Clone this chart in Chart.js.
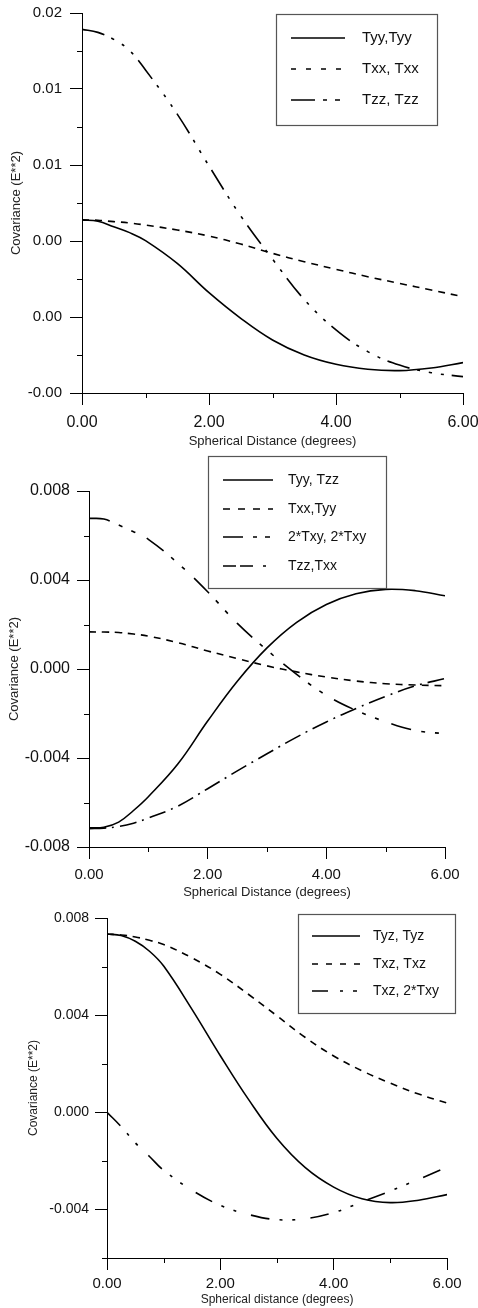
<!DOCTYPE html>
<html>
<head>
<meta charset="utf-8">
<script src="https://cdn.jsdelivr.net/npm/chart.js@4.4.1/dist/chart.umd.min.js"></script>
<style>
  html, body { margin: 0; padding: 0; background: #fff; }
  body { width: 478px; height: 1308px; position: relative; overflow: hidden; }
  canvas { position: absolute; left: 0; }
</style>
</head>
<body>
<canvas id="chart1" width="478" height="452" style="top:0px"></canvas>
<canvas id="chart2" width="478" height="448" style="top:452px"></canvas>
<canvas id="chart3" width="478" height="408" style="top:900px"></canvas>
<script>
// spherical distance (degrees), shared by all three panels
const distance = [0, 0.25, 0.5, 0.75, 1, 1.5, 2, 2.5, 3, 3.5, 4, 4.5, 5, 5.5, 6];

// panel 1
const tyyTyy = [0.00511, 0.00504, 0.00475, 0.00444, 0.00402, 0.00282, 0.00128, -0.00007, -0.00121, -0.00200, -0.00249, -0.00275, -0.00282, -0.00268, -0.00240];
const txxTxx = [0.00511, 0.00509, 0.00502, 0.00495, 0.00484, 0.00458, 0.00426, 0.00384, 0.00335, 0.00291, 0.00251, 0.00212, 0.00177, 0.00142, 0.00107];
const tzzTzz = [0.01514, 0.01498, 0.01461, 0.01402, 0.01300, 0.01068, 0.00795, 0.00532, 0.00305, 0.00092, -0.00068, -0.00182, -0.00253, -0.00293, -0.00314];

// panel 2
const tyyTzz = [-0.00714, -0.00711, -0.00688, -0.00636, -0.00574, -0.00426, -0.00234, -0.00055, 0.00095, 0.00210, 0.00290, 0.00338, 0.00358, 0.00352, 0.00329];
const txxTyy = [0.00167, 0.00166, 0.00164, 0.00157, 0.00148, 0.00118, 0.00081, 0.00047, 0.00014, -0.00013, -0.00036, -0.00054, -0.00066, -0.00072, -0.00075];
const txyTxy = [0.00677, 0.00674, 0.00647, 0.00617, 0.00583, 0.00475, 0.00347, 0.00205, 0.00085, -0.00024, -0.00118, -0.00186, -0.00237, -0.00276, -0.00291];
const tzzTxx = [-0.00718, -0.00715, -0.00708, -0.00693, -0.00670, -0.00616, -0.00538, -0.00458, -0.00381, -0.00306, -0.00238, -0.00178, -0.00123, -0.00076, -0.00043];

// panel 3
const tyzTyz = [0.00734, 0.00728, 0.00704, 0.00663, 0.00602, 0.00424, 0.00233, 0.00052, -0.00108, -0.00228, -0.00308, -0.00356, -0.00372, -0.00362, -0.00339];
const txzTxz = [0.00734, 0.00730, 0.00722, 0.00708, 0.00691, 0.00636, 0.00568, 0.00485, 0.00397, 0.00308, 0.00232, 0.00171, 0.00120, 0.00075, 0.00038];
const txzTxy = [0, -0.00059, -0.00126, -0.00182, -0.00239, -0.00321, -0.00383, -0.00421, -0.00442, -0.00438, -0.00413, -0.00369, -0.00324, -0.00276, -0.00226];

// ticks
const xTicks = [0, 2, 4, 6];
const xTickLabels = ['0.00', '2.00', '4.00', '6.00'];
const xMinor = [1, 3, 5];

const yTicks1 = [-0.004, 0, 0.004, 0.008, 0.012, 0.016];
const yTickLabels1 = ['-0.00', '0.00', '0.00', '0.01', '0.01', '0.02'];
const yMinor1 = [-0.002, 0.002, 0.006, 0.010, 0.014];

const yTicks2 = [-0.008, -0.004, 0, 0.004, 0.008];
const yTickLabels2 = ['-0.008', '-0.004', '0.000', '0.004', '0.008'];
const yMinor2 = [-0.006, -0.002, 0.002, 0.006];

const yTicks3 = [-0.004, 0, 0.004, 0.008];
const yTickLabels3 = ['-0.004', '0.000', '0.004', '0.008'];
const yMinor3 = [-0.006, -0.002, 0.002, 0.006];

const FONT = "'Liberation Sans', Arial, sans-serif";
Chart.defaults.font.family = FONT;
Chart.defaults.color = '#111';

// short minor tick marks on both axes
const minorTicks = {
  id: 'minorTicks',
  afterDraw(chart, args, o) {
    const { ctx, scales: { x, y } } = chart;
    ctx.save();
    ctx.strokeStyle = '#000';
    ctx.lineWidth = 1;
    ctx.beginPath();
    o.x.forEach(v => {
      const px = Math.round(x.getPixelForValue(v)) + 0.5;
      ctx.moveTo(px, y.bottom);
      ctx.lineTo(px, y.bottom + o.len);
    });
    o.y.forEach(v => {
      const py = Math.round(y.getPixelForValue(v)) + 0.5;
      ctx.moveTo(x.left - o.len, py);
      ctx.lineTo(x.left, py);
    });
    ctx.stroke();
    ctx.restore();
  }
};

// boxed legend like the original plots
const boxLegend = {
  id: 'boxLegend',
  afterDraw(chart, args, o) {
    const ctx = chart.ctx;
    ctx.save();
    ctx.fillStyle = '#fff';
    ctx.fillRect(o.left, o.top, o.width, o.height);
    ctx.strokeStyle = '#555';
    ctx.lineWidth = 1.2;
    ctx.strokeRect(o.left + 0.5, o.top + 0.5, o.width, o.height);
    ctx.font = o.fontSize + 'px ' + FONT;
    ctx.textBaseline = 'middle';
    chart.data.datasets.forEach((ds, i) => {
      const yy = o.rows[i];
      ctx.beginPath();
      ctx.setLineDash(ds.legendDash || []);
      ctx.lineWidth = 1.6;
      ctx.strokeStyle = '#000';
      ctx.moveTo(o.lineX, yy);
      ctx.lineTo(o.lineX + o.lineW, yy);
      ctx.stroke();
      ctx.setLineDash([]);
      ctx.fillStyle = '#111';
      ctx.fillText(ds.label, o.textX, yy);
    });
    ctx.restore();
  }
};

function line(label, values, dash, legendDash) {
  return {
    label: label,
    data: distance.map((d, i) => ({ x: d, y: values[i] })),
    borderColor: '#000',
    borderWidth: 1.6,
    borderDash: dash,
    legendDash: legendDash,
    pointRadius: 0,
    fill: false,
    tension: 0.4
  };
}

function drawPanel(id, datasets, yMin, yMax, yTicks, yLabels, yMinor, look) {
  return new Chart(document.getElementById(id), {
    type: 'line',
    data: { datasets: datasets },
    options: {
      responsive: false,
      animation: false,
      devicePixelRatio: 1,
      layout: { padding: { top: look.padTop, right: look.padRight, left: 0, bottom: 0 } },
      plugins: {
        legend: { display: false },
        tooltip: { enabled: false },
        minorTicks: { x: xMinor, y: yMinor, len: 5 },
        boxLegend: look.legend
      },
      scales: {
        x: {
          type: 'linear',
          min: 0,
          max: 6,
          afterBuildTicks: s => { s.ticks = xTicks.map(v => ({ value: v })); },
          afterFit: s => { s.height = look.xHeight; s.paddingLeft = 0; s.paddingRight = 0; },
          grid: { drawOnChartArea: false, tickLength: 12, tickColor: '#000', tickWidth: 1 },
          border: { color: '#000', width: 1 },
          ticks: {
            color: '#111',
            font: { size: look.xTickSize },
            padding: look.xTickPad,
            maxRotation: 0,
            autoSkip: false,
            callback: (v, i) => xTickLabels[i]
          },
          title: {
            display: true,
            text: look.xTitle,
            color: '#222',
            font: { size: look.xTitleSize },
            padding: { top: 0, bottom: look.xTitlePad }
          }
        },
        y: {
          type: 'linear',
          min: yMin,
          max: yMax,
          afterBuildTicks: s => { s.ticks = yTicks.map(v => ({ value: v })); },
          afterFit: s => { s.width = look.yWidth; s.paddingTop = 0; s.paddingBottom = 0; },
          grid: { drawOnChartArea: false, tickLength: 12, tickColor: '#000', tickWidth: 1 },
          border: { color: '#000', width: 1 },
          ticks: {
            color: '#111',
            font: { size: look.yTickSize },
            padding: look.yTickPad,
            autoSkip: false,
            callback: (v, i) => yLabels[i]
          },
          title: {
            display: true,
            text: 'Covariance (E**2)',
            color: '#222',
            font: { size: look.yTitleSize },
            padding: { top: look.yTitlePad, bottom: 0 }
          }
        }
      }
    },
    plugins: [minorTicks, boxLegend]
  });
}

// Panel 1
drawPanel('chart1', [
  line('Tyy,Tyy', tyyTyy, [], []),
  line('Txx, Txx', txxTxx, [7, 6], [5, 10]),
  line('Tzz, Tzz', tzzTzz, [23, 8, 3, 9, 3, 9, 3, 8], [24, 8, 4, 8, 5, 20])
], -0.004, 0.016, yTicks1, yTickLabels1, yMinor1, {
  padTop: 13, padRight: 15, xHeight: 59, yWidth: 82,
  xTickSize: 16, xTickPad: 8, yTickSize: 15, yTickPad: 8,
  xTitle: 'Spherical Distance (degrees)', xTitleSize: 13, xTitlePad: 3,
  yTitleSize: 13, yTitlePad: 9,
  legend: { left: 276, top: 14, width: 161, height: 111, rows: [38, 69, 100], lineX: 291, lineW: 54, textX: 362, fontSize: 15 }
});

// Panel 2
drawPanel('chart2', [
  line('Tyy, Tzz', tyyTzz, [], []),
  line('Txx,Tyy', txxTyy, [7, 6], [7, 8]),
  line('2*Txy, 2*Txy', txyTxy, [21, 10, 4, 10, 4, 13], [20, 10, 4, 8, 5, 20]),
  line('Tzz,Txx', tzzTxx, [17, 6, 2, 6], [13, 4, 13, 10, 3, 20])
], -0.008, 0.008, yTicks2, yTickLabels2, yMinor2, {
  padTop: 39, padRight: 33, xHeight: 53, yWidth: 89,
  xTickSize: 15, xTickPad: 7, yTickSize: 16, yTickPad: 7,
  xTitle: 'Spherical Distance (degrees)', xTitleSize: 13, xTitlePad: 0,
  yTitleSize: 13, yTitlePad: 7,
  legend: { left: 208, top: 4, width: 178, height: 132, rows: [28, 57, 85, 114], lineX: 223, lineW: 50, textX: 288, fontSize: 14 }
});

// Panel 3
drawPanel('chart3', [
  line('Tyz, Tyz', tyzTyz, [], []),
  line('Txz, Txz', txzTxz, [7, 6], [6, 8]),
  line('Txz, 2*Txy', txzTxy, [19, 10, 3, 10, 3, 15], [16, 12, 3, 10, 4, 20])
], -0.006, 0.008, yTicks3, yTickLabels3, yMinor3, {
  padTop: 18, padRight: 31, xHeight: 50, yWidth: 107,
  xTickSize: 15, xTickPad: 5, yTickSize: 14, yTickPad: 6,
  xTitle: 'Spherical distance (degrees)', xTitleSize: 12, xTitlePad: 1,
  yTitleSize: 12, yTitlePad: 26,
  legend: { left: 298, top: 14, width: 157, height: 99, rows: [36, 64, 91], lineX: 312, lineW: 48, textX: 373, fontSize: 14 }
});
</script>
</body>
</html>
